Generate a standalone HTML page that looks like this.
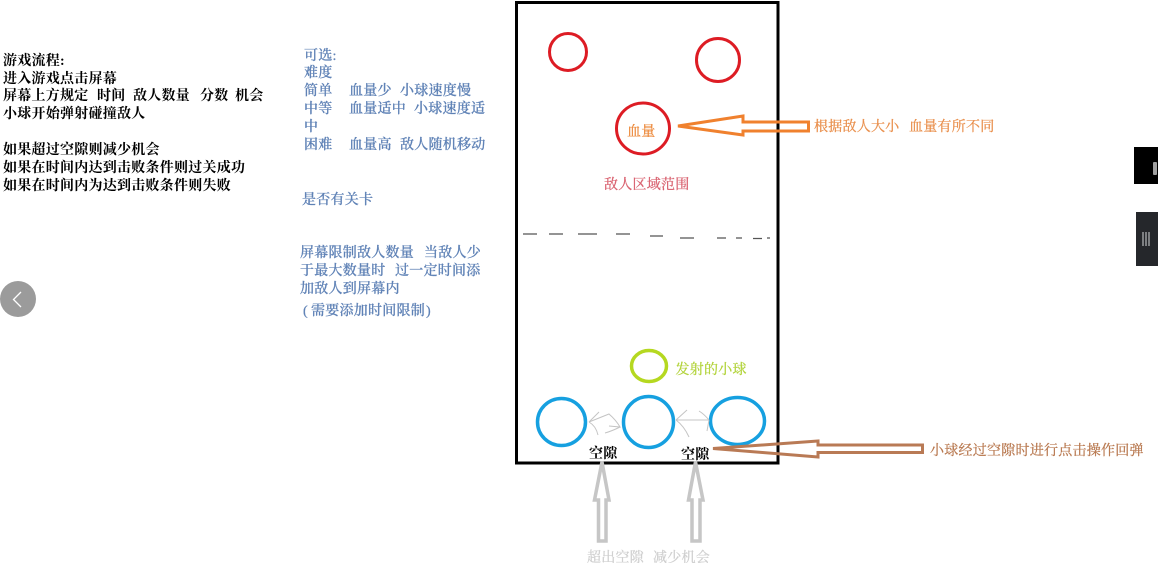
<!DOCTYPE html>
<html>
<head>
<meta charset="utf-8">
<style>
html,body{margin:0;padding:0;background:#fff;width:1158px;height:563px;overflow:hidden}
svg{display:block;filter:blur(.3px)}
text{font-family:"Liberation Serif","Noto Serif CJK SC",serif;font-size:14px;letter-spacing:.25px;stroke-width:.25px}
.k{fill:#000;font-weight:700}
.b{fill:#5f82b6;stroke:#5f82b6;font-weight:500}
</style>
</head>
<body>
<svg width="1158" height="563" viewBox="0 0 1158 563" xmlns="http://www.w3.org/2000/svg">
<rect width="1158" height="563" fill="#fff"/>

<!-- left text -->
<text class="k" x="3" y="65">游戏流程:</text>
<text class="k" x="3" y="83">进入游戏点击屏幕</text>
<text class="k" y="100"><tspan x="3">屏幕上方规定</tspan><tspan x="97">时间</tspan><tspan x="133">敌人数量</tspan><tspan x="200">分数</tspan><tspan x="235">机会</tspan></text>
<text class="k" x="3" y="118">小球开始弹射碰撞敌人</text>
<text class="k" x="3" y="154">如果超过空隙则减少机会</text>
<text class="k" x="3" y="172">如果在时间内达到击败条件则过关成功</text>
<text class="k" x="3" y="190">如果在时间内为达到击败条件则失败</text>

<!-- blue text -->
<text class="b" x="304" y="60">可选:</text>
<text class="b" x="304" y="77">难度</text>
<text class="b" y="95"><tspan x="304">简单</tspan><tspan x="349">血量少</tspan><tspan x="400">小球速度慢</tspan></text>
<text class="b" y="113"><tspan x="304">中等</tspan><tspan x="349">血量适中</tspan><tspan x="414">小球速度适</tspan></text>
<text class="b" x="304" y="131">中</text>
<text class="b" y="149"><tspan x="304">困难</tspan><tspan x="349">血量高</tspan><tspan x="400">敌人随机移动</tspan></text>
<text class="b" x="302" y="204">是否有关卡</text>
<text class="b" y="257"><tspan x="300">屏幕限制敌人数量</tspan><tspan x="424">当敌人少</tspan></text>
<text class="b" y="275"><tspan x="300">于最大数量时</tspan><tspan x="395">过一定时间添</tspan></text>
<text class="b" x="300" y="293">加敌人到屏幕内</text>
<text class="b" y="315"><tspan x="303">(</tspan><tspan x="311">需要添加时间限制</tspan><tspan x="426">)</tspan></text>

<!-- frame -->
<rect x="516.500" y="2.500" width="261.500" height="460.500" fill="none" stroke="#000" stroke-width="3"/>

<!-- enemies -->
<g fill="none" stroke="#dd1c24" stroke-width="3">
<circle cx="568" cy="52" r="18.500"/>
<circle cx="718" cy="60" r="21.500"/>
<ellipse cx="643" cy="128.500" rx="26.500" ry="25.500"/>
</g>
<text x="627" y="136" style="fill:#ec8a3c;stroke:#ec8a3c">血量</text>
<text x="604" y="189" style="fill:#d9606e;stroke:#d9606e">敌人区域范围</text>

<!-- dashed line -->
<g stroke="#555" stroke-width="1.300" fill="none">
<path d="M523 234H537M549 234H563M578 234H597M616 234H630M650 236H663M680 238H694M717 238H726M736 238H742M753 238.500H762M767 238H770"/>
</g>

<!-- ball -->
<ellipse cx="649" cy="366" rx="17.500" ry="15.500" fill="none" stroke="#b5d820" stroke-width="3.500"/>
<text x="675.500" y="374" style="fill:#b2d33a;stroke:#b2d33a">发射的小球</text>

<!-- paddles -->
<g fill="none" stroke="#16a0e0" stroke-width="3.500">
<ellipse cx="561.500" cy="422" rx="24" ry="23.500"/>
<ellipse cx="648.500" cy="422" rx="25" ry="25.500"/>
<ellipse cx="737.500" cy="421" rx="27" ry="23.500"/>
</g>

<!-- thin gray arrows -->
<g fill="none" stroke="#c4c4c4" stroke-width="1">
<path d="M589 422 L599 412 M589 422 L609 414 Q616 420 620 427 L609 426 M589 422 Q596 426 598 435 M620 427 Q612 431 605 433"/>
<path d="M676 420 L709 420 M676 420 L687 410 M676 420 Q684 426 689 437 M709 420 Q704 414 699 411 M709 420 L707 431"/>
</g>

<!-- gap labels -->
<text x="589" y="458" class="k">空隙</text>
<text x="681" y="459" class="k">空隙</text>

<!-- gray up arrows -->
<g fill="#fff" stroke="#c6c6c6" stroke-width="3.500" stroke-linejoin="miter">
<path d="M602 462 L609 500 H606 V541 H598.500 V500 H594.500 Z"/>
<path d="M695.500 462 L703 500 H700 V541 H692 V500 H688.500 Z"/>
</g>
<text x="587" y="562" style="fill:#cfcfcf;stroke:#cfcfcf">超出空隙</text>
<text x="653" y="562" style="fill:#cfcfcf;stroke:#cfcfcf">减少机会</text>

<!-- orange arrow -->
<path d="M678 126 L743 116 V122 H808.500 V131 H743 V135 Z" fill="none" stroke="#f0812e" stroke-width="3" stroke-linejoin="miter"/>
<text y="131" style="fill:#e98f4c;stroke:#e98f4c"><tspan x="814">根据敌人大小</tspan><tspan x="909">血量有所不同</tspan></text>

<!-- brown arrow -->
<path d="M713 448.500 L818 441 V445 H922.500 V452.500 H818 V457 Z" fill="none" stroke="#b97a55" stroke-width="3" stroke-linejoin="miter"/>
<text x="930" y="455" style="fill:#b8784f;stroke:#b8784f">小球经过空隙时进行点击操作回弹</text>

<!-- right tabs -->
<rect x="1134" y="147" width="24" height="37" fill="#000"/>
<rect x="1153" y="162" width="4" height="13" rx="1" fill="#a0a0a0"/>
<rect x="1136" y="212" width="22" height="54" fill="#25272b"/>
<g fill="#7d7f82">
<rect x="1142" y="232" width="2" height="14"/>
<rect x="1145" y="232" width="2" height="14"/>
<rect x="1148" y="232" width="2" height="14"/>
</g>

<!-- left round button -->
<circle cx="18" cy="299" r="18" fill="#9b9b9b"/>
<path d="M21 292 L13.500 299.500 L21 307" fill="none" stroke="#fff" stroke-width="1.300"/>
</svg>
</body>
</html>
